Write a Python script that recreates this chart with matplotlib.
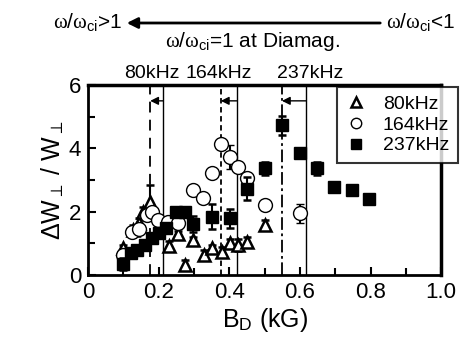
import matplotlib
matplotlib.use("Agg")
import matplotlib.pyplot as plt
from matplotlib.ticker import MultipleLocator

plt.rcParams['font.family'] = ['Liberation Sans', 'DejaVu Sans']
plt.rcParams['mathtext.fontset'] = 'custom'
plt.rcParams['mathtext.rm'] = 'Liberation Sans'
plt.rcParams['mathtext.it'] = 'Liberation Serif'

# 80 kHz (open triangles)
b80 = [0.10, 0.128, 0.143, 0.157, 0.176, 0.228, 0.256, 0.275, 0.298, 0.327, 0.35, 0.378, 0.402, 0.426, 0.45, 0.50]
w80 = [0.85, 1.42, 1.65, 2.0, 2.3, 0.92, 1.3, 0.32, 1.1, 0.63, 0.84, 0.74, 1.0, 0.95, 1.05, 1.58]
e80 = [0.1, 0.15, 0.15, 0.15, 0.55, 0.15, 0.1, 0.15, 0.1, 0.15, 0.1, 0.15, 0.15, 0.2, 0.15, 0.15]

# 164 kHz (open circles)
b164 = [0.10, 0.124, 0.145, 0.166, 0.18, 0.198, 0.227, 0.255, 0.298, 0.325, 0.35, 0.376, 0.402, 0.426, 0.45, 0.50, 0.599]
w164 = [0.63, 1.35, 1.45, 1.9, 2.0, 1.75, 1.68, 1.63, 2.68, 2.42, 3.23, 4.15, 3.73, 3.42, 3.05, 2.2, 1.95]
e164 = [0, 0, 0, 0, 0, 0, 0, 0, 0, 0, 0, 0, 0.37, 0, 0, 0, 0.3]

# 237 kHz (filled squares)
b237 = [0.10, 0.123, 0.14, 0.16, 0.18, 0.20, 0.22, 0.25, 0.275, 0.298, 0.35, 0.402, 0.45, 0.50, 0.549, 0.599, 0.648, 0.697, 0.747, 0.796]
w237 = [0.35, 0.7, 0.8, 0.95, 1.17, 1.32, 1.48, 2.0, 2.0, 1.6, 1.84, 1.8, 2.73, 3.37, 4.73, 3.84, 3.37, 2.79, 2.68, 2.39]
e237 = [0.2, 0.15, 0.1, 0.1, 0.1, 0.1, 0.1, 0.1, 0.1, 0.25, 0.4, 0.3, 0.35, 0.2, 0.3, 0.1, 0.2, 0.1, 0.1, 0.15]

# resonance lines: (dashed/dotted/dash-dot start, solid end) per frequency
freq_names = ['80kHz', '164kHz', '237kHz']
res_left = [0.176, 0.376, 0.549]
res_right = [0.213, 0.421, 0.618]

fig = plt.figure(figsize=(4.61, 3.47), dpi=100)
ax = fig.add_axes([0.191, 0.2075, 0.766, 0.5475])

styles = [(0, (6, 4)), (0, (3, 2)), (0, (7, 2, 1.5, 2))]
for xl, xr, ls in zip(res_left, res_right, styles):
    ax.axvline(xl, color='black', lw=1.3, ls=ls, zorder=1)
    ax.axvline(xr, color='black', lw=1.0, zorder=1)
    ax.annotate('', xy=(xl, 5.5), xytext=(xr, 5.5),
                arrowprops=dict(arrowstyle='-|>', color='black', lw=1.0,
                                mutation_scale=12, shrinkA=0, shrinkB=0))

ekw = dict(ecolor='black', elinewidth=1.5, capsize=3, capthick=1.8, ls='none')
ax.errorbar(b80, w80, yerr=e80, fmt='^', ms=9, mfc='white', mec='black', mew=1.8,
            label='80kHz', zorder=3, **ekw)
ax.errorbar(b164, w164, yerr=e164, fmt='o', ms=10, mfc='white', mec='black', mew=1.0,
            label='164kHz', zorder=4, **ekw)
ax.errorbar(b237, w237, yerr=e237, fmt='s', ms=9, mfc='black', mec='black',
            label='237kHz', zorder=5, **ekw)

ax.set_xlim(0, 1.0)
ax.set_ylim(0, 6)
ax.set_xticks([0, 0.2, 0.4, 0.6, 0.8, 1.0])
ax.set_xticklabels(['0', '0.2', '0.4', '0.6', '0.8', '1.0'])
ax.xaxis.set_minor_locator(MultipleLocator(0.1))
ax.yaxis.set_major_locator(MultipleLocator(2))
ax.yaxis.set_minor_locator(MultipleLocator(1))
ax.tick_params(which='both', direction='in', width=1.5, labelsize=16, pad=5)
ax.tick_params(which='major', length=6)
ax.tick_params(which='minor', length=5)
for side in ['left', 'bottom']:
    ax.spines[side].set_linewidth(2)
for side in ['top', 'right']:
    ax.spines[side].set_linewidth(2.5)

ax.set_xlabel(r'B$_{\rm D}$ (kG)', fontsize=18, labelpad=2)
ax.set_ylabel(r'$\Delta$W$_\perp$ / W$_\perp$', fontsize=18, labelpad=2)

handles, labels = ax.get_legend_handles_labels()
handles = [h[0] for h in handles]
leg = ax.legend(handles, labels, loc='upper right', bbox_to_anchor=(1.048, 0.99),
                borderaxespad=0, fontsize=14, frameon=True, fancybox=False,
                edgecolor='black', handlelength=1.0, handletextpad=0.9,
                labelspacing=0.15, borderpad=0.45, markerscale=0.75)
leg.get_frame().set_linewidth(1.5)
leg.set_zorder(10)

W, H = 461.0, 347.0
for name, cx in zip(freq_names, [151.5, 218.5, 310]):
    fig.text(cx / W, 1 - 74 / H, name, fontsize=14, ha='center', va='center')

fig.text(53 / W, 1 - 28 / H, r'$\omega/\omega_{\rm ci}$>1', fontsize=15, ha='left', va='baseline')
fig.text(386 / W, 1 - 28 / H, r'$\omega/\omega_{\rm ci}$<1', fontsize=15, ha='left', va='baseline')
fig.text(165 / W, 1 - 47 / H, r'$\omega/\omega_{\rm ci}$=1 at Diamag.', fontsize=15, ha='left', va='baseline')
fig.patches.append(matplotlib.patches.FancyArrowPatch(
    (383 / W, 1 - 23 / H), (124 / W, 1 - 23 / H), transform=fig.transFigure,
    arrowstyle='-|>', mutation_scale=16, lw=2, color='black', figure=fig))

fig.savefig('out.png', dpi=100)
